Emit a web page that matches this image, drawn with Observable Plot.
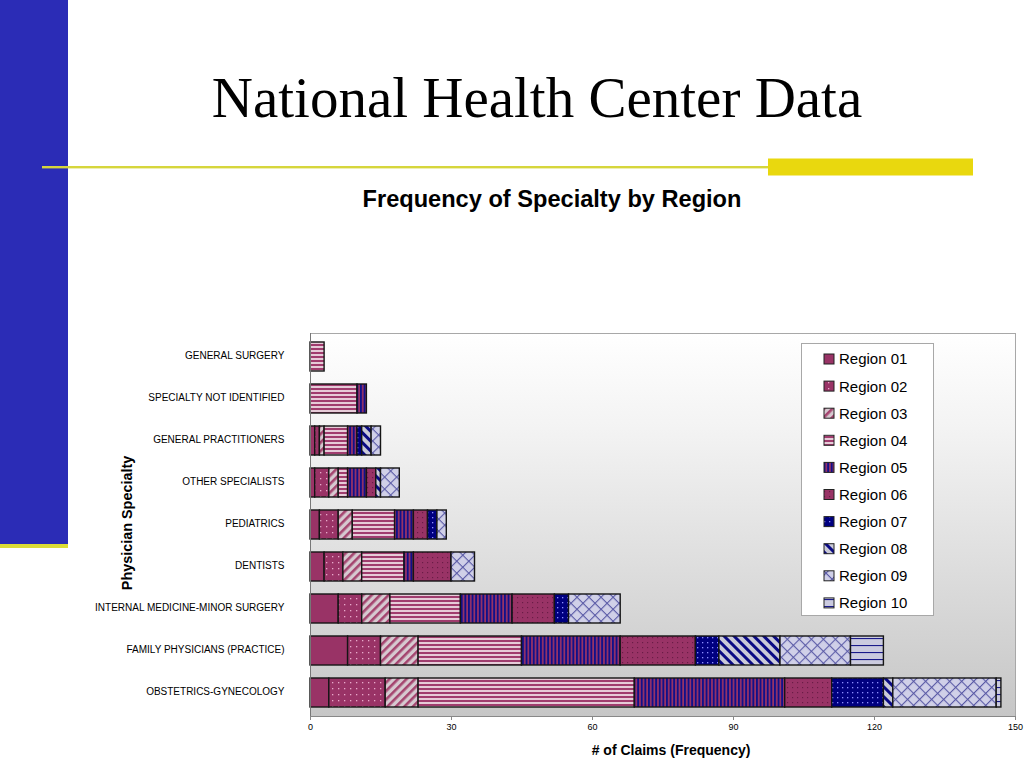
<!DOCTYPE html>
<html>
<head>
<meta charset="utf-8">
<script src="https://cdn.jsdelivr.net/npm/d3@7"></script>
<script src="https://cdn.jsdelivr.net/npm/@observablehq/plot@0.6"></script>
<style>
  body { margin: 0; background: #fff; font-family: "Liberation Sans", Arial, sans-serif; }
  #page { position: relative; width: 1024px; height: 768px; overflow: hidden; background: #fff; }
  #deco { position: absolute; left: 0; top: 0; }
  #chart { position: absolute; left: 0; top: 320px; }
  #legend { position: absolute; left: 801px; top: 343px; width: 133px; height: 273px;
            background: #fff; border: 1px solid #a8a8a8; box-sizing: border-box; }
</style>
</head>
<body>
<div id="page">
  <svg id="deco" width="1024" height="768">
    <defs>
      <linearGradient id="bggrad" x1="0" y1="0" x2="0" y2="1">
        <stop offset="0" stop-color="#ffffff"/>
        <stop offset="0.25" stop-color="#f3f3f3"/>
        <stop offset="1" stop-color="#c6c6c6"/>
      </linearGradient>
      <pattern id="pat0" width="6" height="6" patternUnits="userSpaceOnUse">
        <rect width="6" height="6" fill="#993366"/>
      </pattern>
      <pattern id="pat1" width="6" height="6" patternUnits="userSpaceOnUse">
        <rect width="6" height="6" fill="#993366"/>
        <rect x="2" y="2" width="1.3" height="1.3" fill="#e8a9cb"/>
      </pattern>
      <pattern id="pat2" width="6" height="6" patternUnits="userSpaceOnUse" patternTransform="rotate(45)">
        <rect width="6" height="6" fill="#d6c9d0"/>
        <rect width="2.6" height="6" fill="#a4446f"/>
      </pattern>
      <pattern id="pat3" width="4" height="4" patternUnits="userSpaceOnUse">
        <rect width="4" height="4" fill="#e6cbd8"/>
        <rect width="4" height="2" fill="#a03c6e"/>
      </pattern>
      <pattern id="pat4" width="3.6" height="4" patternUnits="userSpaceOnUse">
        <rect width="3.6" height="4" fill="#993366"/>
        <rect width="1.9" height="4" fill="#10108a"/>
      </pattern>
      <pattern id="pat5" width="5" height="5" patternUnits="userSpaceOnUse">
        <rect width="5" height="5" fill="#993366"/>
        <rect x="2" y="2" width="1.2" height="1.2" fill="#6a1c46"/>
      </pattern>
      <pattern id="pat6" width="5" height="5" patternUnits="userSpaceOnUse">
        <rect width="5" height="5" fill="#000080"/>
        <rect x="2" y="2" width="1.3" height="1.3" fill="#8c8cff"/>
      </pattern>
      <pattern id="pat7" width="7" height="7" patternUnits="userSpaceOnUse" patternTransform="rotate(-45)">
        <rect width="7" height="7" fill="#cacad8"/>
        <rect width="3" height="7" fill="#0a0a84"/>
      </pattern>
      <pattern id="pat8" width="8.5" height="8.5" patternUnits="userSpaceOnUse" patternTransform="rotate(45)">
        <rect width="8.5" height="8.5" fill="#d0d0e8"/>
        <rect width="1.1" height="8.5" fill="#5a5aa6"/>
        <rect width="8.5" height="1.1" fill="#5a5aa6"/>
      </pattern>
      <pattern id="pat9" width="7" height="7" patternUnits="userSpaceOnUse">
        <rect width="7" height="7" fill="#cbcbdf"/>
        <rect y="3" width="7" height="1.1" fill="#1a1a8a"/>
      </pattern>
    </defs>
    <rect x="0" y="0" width="68" height="544" fill="#2b2cb6"/>
    <rect x="0" y="544" width="68" height="4" fill="#dcdc36"/>
    <rect x="42" y="166" width="728" height="2.4" fill="#d6d63c"/>
    <rect x="768" y="158.5" width="205" height="17" fill="#e9d80e"/>
    <text x="537" y="117" text-anchor="middle" font-family="Liberation Serif, Times New Roman, serif" font-size="57" fill="#000">National Health Center Data</text>
    <text x="552" y="207" text-anchor="middle" font-family="Liberation Sans, Arial, sans-serif" font-weight="bold" font-size="23.6" fill="#000">Frequency of Specialty by Region</text>
  </svg>
  <div id="chart"></div>
  <div id="legend"></div>
</div>
<script>
// ---- data ----
const specialties = [
  "GENERAL SURGERY",
  "SPECIALTY NOT IDENTIFIED",
  "GENERAL PRACTITIONERS",
  "OTHER SPECIALISTS",
  "PEDIATRICS",
  "DENTISTS",
  "INTERNAL MEDICINE-MINOR SURGERY",
  "FAMILY PHYSICIANS (PRACTICE)",
  "OBSTETRICS-GYNECOLOGY"
];
const regions = ["Region 01","Region 02","Region 03","Region 04","Region 05",
                 "Region 06","Region 07","Region 08","Region 09","Region 10"];
// values per specialty (same order as specialties)
const region01 = [0, 0, 1, 1, 2, 3, 6, 8, 4];
const region02 = [0, 0, 1, 3, 4, 4, 5, 7, 12];
const region03 = [0, 0, 1, 2, 3, 4, 6, 8, 7];
const region04 = [3, 10, 5, 2, 9, 9, 15, 22, 46];
const region05 = [0, 2, 2, 4, 4, 2, 11, 21, 32];
const region06 = [0, 0, 0, 2, 3, 8, 9, 16, 10];
const region07 = [0, 0, 1, 0, 2, 0, 3, 5, 11];
const region08 = [0, 0, 2, 1, 0, 0, 0, 13, 2];
const region09 = [0, 0, 2, 4, 2, 5, 11, 15, 22];
const region10 = [0, 0, 0, 0, 0, 0, 0, 7, 1];
const xTicks = [0, 30, 60, 90, 120, 150];

// ---- build table ----
const series = [region01, region02, region03, region04, region05,
                region06, region07, region08, region09, region10];
const rows = [];
regions.forEach((r, i) => {
  series[i].forEach((v, j) => {
    if (v > 0) rows.push({specialty: specialties[j], region: r, claims: v});
  });
});
const fills = regions.map((r, i) => `url(#pat${i})`);

const chart = Plot.plot({
  width: 1024,
  height: 445,
  marginLeft: 310,
  marginRight: 9,
  marginTop: 13,
  marginBottom: 49,
  style: {fontFamily: "Liberation Sans, Arial, sans-serif", background: "transparent", overflow: "visible", color: "#000"},
  x: {domain: [0, 150], label: null},
  y: {domain: specialties, paddingInner: 0.32, paddingOuter: 0.18, label: null},
  color: {type: "ordinal", domain: regions, range: fills},
  marks: [
    Plot.frame({fill: "url(#bggrad)", stroke: "#a8a8a8"}),
    Plot.barX(rows, Plot.stackX({x: "claims", y: "specialty", fill: "region", stroke: "#151515", strokeWidth: 1.4})),
    Plot.ruleX([0], {stroke: "#777"}),
    Plot.frame({anchor: "bottom", stroke: "#888"}),
    Plot.axisX({ticks: xTicks, tickSize: 4, tickPadding: 3, fontSize: 9, label: null, stroke: "#888"}),
    Plot.axisY({tickSize: 0, tickPadding: 26, fontSize: 10, label: null, dy: -1}),
    Plot.text(["Physician Specialty"], {text: d => d, frameAnchor: "left", textAnchor: "middle", dx: -183, dy: -2, rotate: -90, fontWeight: "bold", fontSize: 14.4}),
    Plot.text(["# of Claims (Frequency)"], {text: d => d, frameAnchor: "bottom", textAnchor: "middle", dy: 38, dx: 8, fontWeight: "bold", fontSize: 14})
  ]
});
document.getElementById("chart").appendChild(chart);

// ---- legend ----
const leg = d3.select("#legend").append("svg").attr("width", 133).attr("height", 273)
  .style("font-family", "Liberation Sans, Arial, sans-serif");
regions.forEach((r, i) => {
  const cy = 15 + i * 27.1;
  leg.append("rect").attr("x", 22).attr("y", cy - 5).attr("width", 10).attr("height", 10)
    .attr("fill", fills[i]).attr("stroke", "#222").attr("stroke-width", 1);
  leg.append("text").attr("x", 37).attr("y", cy).attr("dy", "0.36em")
    .attr("font-size", 15).attr("fill", "#000").text(r);
});
</script>
</body>
</html>
